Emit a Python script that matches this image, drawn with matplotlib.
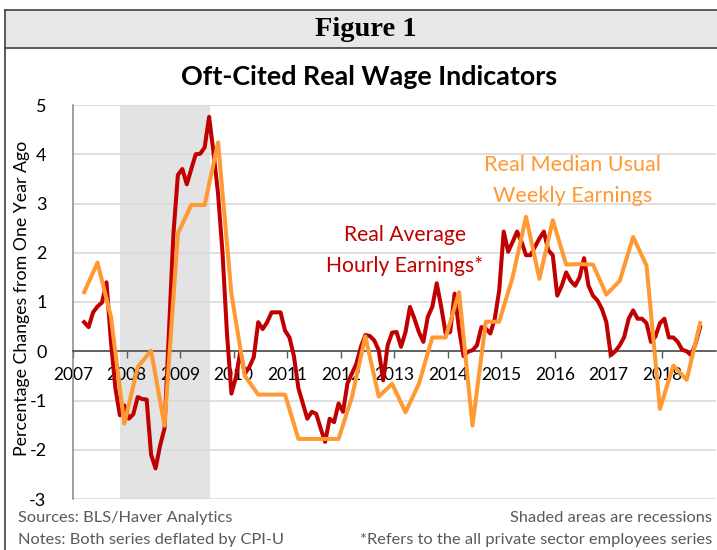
import numpy as np
import matplotlib
matplotlib.use("Agg")
import matplotlib.pyplot as plt
import matplotlib.transforms as mtransforms
from matplotlib.patches import Rectangle
from matplotlib.lines import Line2D

# ---------------- data ----------------
# Real Average Hourly Earnings (monthly, YoY %), Mar 2007 - Sep 2018
ahe_start_year, ahe_start_month = 2007, 3
ahe_2007 = [0.59, 0.49, 0.79, 0.91, 0.99, 1.40, 0.20, -0.75, -1.30, -1.10]
ahe_2008 = [-1.37, -1.28, -0.93, -0.97, -0.98, -2.10, -2.38, -1.92, -1.57, 0.40, 2.38, 3.58]
ahe_2009 = [3.70, 3.39, 3.70, 4.00, 4.01, 4.14, 4.76, 4.02, 3.20, 2.00, 0.36, -0.86]
ahe_2010 = [-0.53, 0.00, -0.46, -0.32, -0.12, 0.59, 0.45, 0.59, 0.79, 0.79, 0.79, 0.42]
ahe_2011 = [0.28, -0.10, -0.75, -1.06, -1.37, -1.23, -1.27, -1.57, -1.84, -1.37, -1.44, -1.06]
ahe_2012 = [-1.23, -0.65, -0.45, -0.25, 0.09, 0.33, 0.31, 0.22, 0.02, -0.59, 0.12, 0.38]
ahe_2013 = [0.39, 0.09, 0.39, 0.90, 0.66, 0.39, 0.19, 0.70, 0.90, 1.38, 0.90, 0.36]
ahe_2014 = [0.39, 1.17, 0.45, -0.10, -0.01, 0.02, 0.12, 0.49, 0.46, 0.36, 0.66, 1.24]
ahe_2015 = [2.43, 2.02, 2.22, 2.43, 2.22, 1.95, 1.95, 2.12, 2.29, 2.43, 2.05, 1.95]
ahe_2016 = [1.13, 1.33, 1.60, 1.43, 1.33, 1.50, 1.89, 1.33, 1.13, 1.03, 0.86, 0.59]
ahe_2017 = [-0.08, 0.00, 0.12, 0.29, 0.66, 0.83, 0.66, 0.66, 0.57, 0.19, 0.30, 0.57]
ahe_2018 = [0.66, 0.28, 0.28, 0.19, 0.03, 0.00, -0.08, 0.16, 0.49]

# Real Median Usual Weekly Earnings (quarterly, YoY %), 2007Q1 - 2018Q3
wk_start_year = 2007
wk_values = [1.20, 1.80, 0.70, -1.47,
             -0.32, 0.01, -1.51, 2.39,
             2.97, 2.97, 4.24, 1.16,
             -0.50, -0.88, -0.88, -0.88,
             -1.78, -1.78, -1.78, -1.78,
             -0.93, 0.30, -0.92, -0.66,
             -1.24, -0.66, 0.28, 0.28,
             1.20, -1.51, 0.60, 0.60,
             1.50, 2.73, 1.47, 2.66,
             1.76, 1.77, 1.76, 1.15,
             1.43, 2.32, 1.74, -1.17,
             -0.29, -0.58, 0.57]

recessions = [(2007.87, 2009.55)]
year_ticks = list(range(2007, 2019))
y_ticks = [5, 4, 3, 2, 1, 0, -1, -2, -3]

ahe_values = (ahe_2007 + ahe_2008 + ahe_2009 + ahe_2010 + ahe_2011 + ahe_2012 +
              ahe_2013 + ahe_2014 + ahe_2015 + ahe_2016 + ahe_2017 + ahe_2018)
ahe_x = ahe_start_year + (ahe_start_month - 1 + 0.5 + np.arange(len(ahe_values))) / 12.0
wk_x = wk_start_year + (3 * np.arange(len(wk_values)) + 2 + 0.5) / 12.0

# ---------------- style ----------------
RED = "#C00000"
ORANGE = "#FF9933"
GRAY_TXT = "#595959"
FONT = ["Lato", "DejaVu Sans"]
plt.rcParams["font.family"] = FONT

W, H = 717, 550
fig = plt.figure(figsize=(W / 100, H / 100), dpi=100)

def fx(px):
    return px / W
def fy(py):
    return 1 - py / H

# frame and header band
fig.patches.append(Rectangle((fx(5), fy(48)), 1 - fx(5), (48 - 10) / H,
                             transform=fig.transFigure, facecolor="#E7E7E7",
                             edgecolor="none", zorder=0))
for (x0, y0, x1, y1) in [(5, 10, 717, 10), (5, 48, 717, 48), (5, 10, 5, 550)]:
    fig.lines.append(Line2D([fx(x0), fx(x1)], [fy(y0), fy(y1)], transform=fig.transFigure,
                            color="#3F3F3F", lw=1.2))

fig.text(fx(366), fy(30), "Figure 1", ha="center", va="center", fontsize=20.5,
         fontweight="bold", family=["Liberation Serif", "DejaVu Serif"], color="black")
fig.text(fx(369), fy(77), "Oft-Cited Real Wage Indicators", ha="center", va="center",
         fontsize=19.4, fontweight="bold", color="black")

# axes
ax = fig.add_axes([fx(73), fy(499), (715.7 - 73) / W, (499 - 105) / H])
ax.set_xlim(2007, 2019)
ax.set_ylim(-3, 5)

for (r0, r1) in recessions:
    ax.axvspan(r0, r1, color="#E3E3E3", lw=0, zorder=0)

ax.set_yticks(y_ticks)
ax.yaxis.grid(True, color="#D9D9D9", lw=1.2, zorder=0.5)
ax.set_axisbelow(True)
ax.tick_params(axis="y", length=0, pad=19, labelsize=13)
ax.set_yticklabels([str(v) for v in y_ticks])

ax.set_xticks(year_ticks)
ax.set_xticklabels([str(y) for y in year_ticks])
ax.tick_params(axis="x", direction="out", length=5, width=1, color="#595959",
               pad=6, labelsize=12.5)
offset = mtransforms.ScaledTranslation(3 / 100, 0, fig.dpi_scale_trans)
for lbl in ax.get_xticklabels():
    lbl.set_transform(lbl.get_transform() + offset)

for s in ["top", "right"]:
    ax.spines[s].set_visible(False)
ax.spines["bottom"].set_position(("data", 0))
ax.spines["bottom"].set_color("#404040")
ax.spines["bottom"].set_linewidth(1.1)
ax.spines["left"].set_color("#868686")
ax.spines["left"].set_linewidth(1.1)

ax.plot(ahe_x, ahe_values, color=RED, lw=2.9, solid_joinstyle="round", zorder=3)
ax.plot(wk_x, wk_values, color=ORANGE, lw=2.9, solid_joinstyle="round", zorder=4)

# series labels
ax.text(2013.2, 2.36, "Real Average", color=RED, ha="center", va="center", fontsize=15.2)
ax.text(2013.2, 1.74, "Hourly Earnings*", color=RED, ha="center", va="center", fontsize=15.2)
ax.text(2016.32, 3.78, "Real Median Usual", color=ORANGE, ha="center", va="center", fontsize=15.6)
ax.text(2016.32, 3.15, "Weekly Earnings", color=ORANGE, ha="center", va="center", fontsize=15.6)

# y label
fig.text(fx(22), fy(298), "Percentage Changes from One Year Ago", rotation=90,
         ha="center", va="center", fontsize=12.8, color="black")

# footer
FS = 11.8
fig.text(fx(18), fy(518), "Sources: BLS/Haver Analytics", ha="left", va="center",
         fontsize=FS, color=GRAY_TXT)
fig.text(fx(18), fy(540), "Notes: Both series deflated by CPI-U", ha="left", va="center",
         fontsize=FS, color=GRAY_TXT)
fig.text(fx(712), fy(518), "Shaded areas are recessions", ha="right", va="center",
         fontsize=FS, color=GRAY_TXT)
fig.text(fx(712), fy(540), "*Refers to the all private sector employees series", ha="right",
         va="center", fontsize=FS, color=GRAY_TXT)

fig.savefig("out.png", dpi=100, facecolor="white")
